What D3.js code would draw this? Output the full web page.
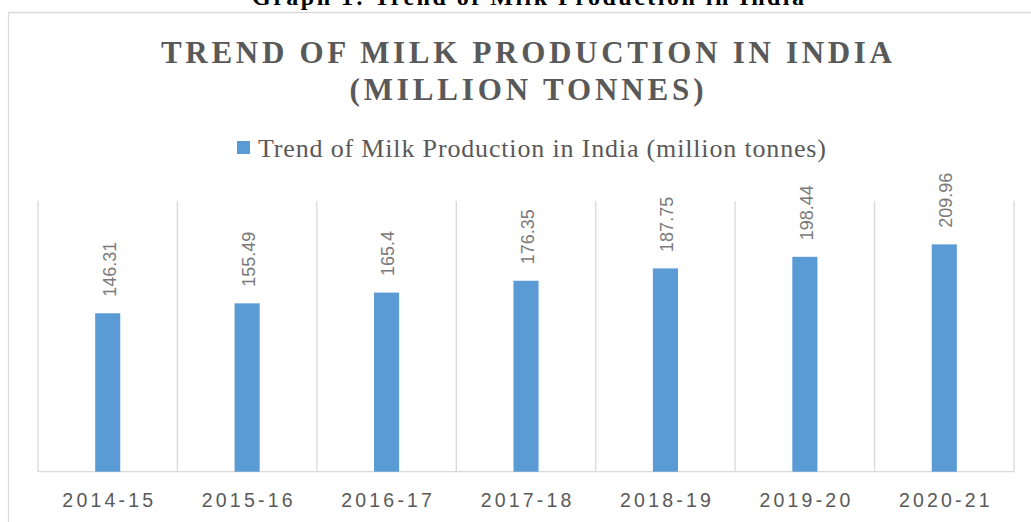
<!DOCTYPE html>
<html>
<head>
<meta charset="utf-8">
<script src="https://cdn.jsdelivr.net/npm/d3@7"></script>
<style>
  html, body { margin: 0; padding: 0; background: #ffffff; }
  svg { display: block; }
</style>
</head>
<body>
<svg id="chart" width="1031" height="522"></svg>
<script>
// Milk production in India by year (million tonnes)
const years = ["2014-15", "2015-16", "2016-17", "2017-18", "2018-19", "2019-20", "2020-21"];
const production = [146.31, 155.49, 165.4, 176.35, 187.75, 198.44, 209.96];
const seriesName = "Trend of Milk Production in India (million tonnes)";
const caption = "Graph 1: Trend of Milk Production in India";
const titleLines = ["TREND OF MILK PRODUCTION IN INDIA", "(MILLION TONNES)"];
const yDomain = [0, 250];

const svg = d3.select("#chart");
const barColor = "#5b9bd5";
const gridColor = "#d9d9d9";
const textColor = "#595959";

const plot = { left: 38, right: 1014, top: 201, bottom: 471.7 };

const x = d3.scaleBand()
  .domain(years)
  .range([plot.left, plot.right])
  .paddingInner(0.82)
  .paddingOuter(0.41);

const y = d3.scaleLinear().domain(yDomain).range([plot.bottom, plot.top]);

// Caption above the chart frame
svg.append("text")
  .attr("x", 528).attr("y", 5)
  .attr("text-anchor", "middle")
  .attr("font-family", "'Liberation Serif', 'Times New Roman', serif")
  .attr("font-weight", "bold")
  .attr("font-size", 24)
  .attr("textLength", 552)
  .attr("lengthAdjust", "spacing")
  .attr("fill", "#000")
  .text(caption);

// Chart frame (open on the right and bottom)
svg.append("path")
  .attr("d", "M8.5,540V12.5H1045")
  .attr("fill", "none")
  .attr("stroke", gridColor)
  .attr("stroke-width", 1.3);

// Title
const titleWidths = [731, 354];
const titleBaselines = [63.3, 99.5];
titleLines.forEach((t, i) => {
  svg.append("text")
    .attr("x", 526.5).attr("y", titleBaselines[i])
    .attr("text-anchor", "middle")
    .attr("font-family", "'Liberation Serif', 'Times New Roman', serif")
    .attr("font-weight", "bold")
    .attr("font-size", 31)
    .attr("textLength", titleWidths[i])
    .attr("lengthAdjust", "spacing")
    .attr("fill", textColor)
    .text(t);
});

// Legend
const legend = svg.append("g");
legend.append("rect")
  .attr("x", 237).attr("y", 141)
  .attr("width", 13).attr("height", 13)
  .attr("fill", barColor);
legend.append("text")
  .attr("x", 258).attr("y", 156.7)
  .attr("font-family", "'Liberation Serif', 'Times New Roman', serif")
  .attr("font-size", 26)
  .attr("textLength", 568)
  .attr("lengthAdjust", "spacing")
  .attr("fill", textColor)
  .text(seriesName);

// Vertical category gridlines at band boundaries
const step = x.step();
const boundaries = d3.range(years.length + 1).map(i => plot.left + i * step);
svg.append("g")
  .selectAll("line")
  .data(boundaries)
  .join("line")
  .attr("x1", d => d).attr("x2", d => d)
  .attr("y1", plot.top).attr("y2", plot.bottom)
  .attr("stroke", gridColor)
  .attr("stroke-width", 1.3);

// Category axis
const xAxis = svg.append("g")
  .attr("transform", `translate(0,${plot.bottom})`)
  .call(d3.axisBottom(x).tickSize(0).tickPadding(0));
xAxis.select(".domain")
  .attr("d", `M${plot.left},0H${plot.right}`)
  .attr("stroke", gridColor)
  .attr("stroke-width", 1.3);
xAxis.selectAll(".tick text")
  .attr("y", 35.6)
  .attr("dy", 0)
  .attr("dx", 1.6)
  .attr("font-family", "'Liberation Sans', Arial, sans-serif")
  .attr("font-size", 19.5)
  .attr("letter-spacing", 3.2)
  .attr("fill", textColor);

// Bars
svg.append("g")
  .selectAll("rect")
  .data(production)
  .join("rect")
  .attr("x", (d, i) => x(years[i]))
  .attr("width", x.bandwidth())
  .attr("y", d => y(d))
  .attr("height", d => y(0) - y(d))
  .attr("fill", barColor);

// Rotated value labels
svg.append("g")
  .selectAll("text")
  .data(production)
  .join("text")
  .attr("transform", (d, i) => `translate(${x(years[i]) + x.bandwidth() / 2 + 1.5},${y(d) - 16.5}) rotate(-90)`)
  .attr("dy", "0.35em")
  .attr("font-family", "'Liberation Sans', Arial, sans-serif")
  .attr("font-size", 18)
  .attr("fill", "#7a7a7a")
  .text(d => d);
</script>
</body>
</html>
